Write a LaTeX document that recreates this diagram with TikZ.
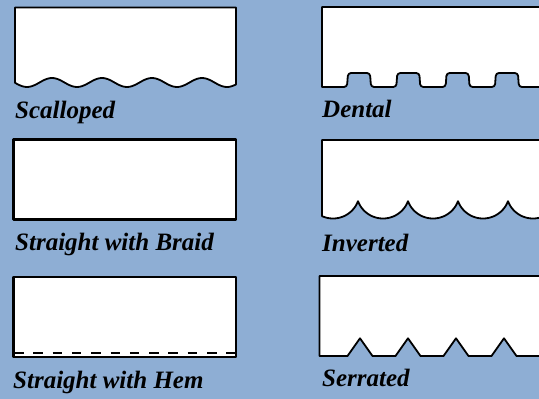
\documentclass[tikz,border=0pt]{standalone}
\usepackage{fontspec}
\setmainfont{Liberation Serif}
\definecolor{bgblue}{RGB}{142,174,212}

\begin{document}
\begin{tikzpicture}[x=1pt,y=-1pt,
    hemline/.style={draw=black,fill=white,line width=1.8pt,line join=round},
    caption/.style={anchor=base west,inner sep=0pt,font=\fontsize{25}{29}\selectfont\bfseries\itshape}]
    \fill[bgblue] (0,0) rectangle (539,399);
    \clip (0,0) rectangle (539,399);

    % scalloped
    \draw[hemline] (236,7.5)--(15,7.5)--(15,83) -- plot[domain=15:236,samples=120,smooth,variable=\x] (\x,{82.5-4.5*cos(7.2*(\x-52))}) -- cycle;
    \node[caption] (scalloped) at (15,118) {Scalloped};

    % dental
    \draw[hemline] (550,7)--(322,7)--(322,87) [rounded corners=3pt]
        \foreach \i in {0,...,4}{ --({347+49.3*\i},87)--({348+49.3*\i},73)--({370+49.3*\i},73)--({371+49.3*\i},87) }
        [sharp corners] --(550,87)--cycle;
    \node[caption] (dental) at (322,117) {Dental};

    % straight with braid
    \draw[hemline,line width=2.2pt] (13.5,139.5) rectangle (236,219.5);
    \node[caption] (braid) at (15,250) {Straight with Braid};

    % inverted
    \draw[hemline] (550,140)--(322,140)--(322,216) -- plot[domain=322:545,samples=224,variable=\x] (\x,{191.8+sqrt(712.9-(mod(\x-308,50)-25)^2)}) --(550,218.5)--cycle;
    \node[caption] (inverted) at (322,251.5) {Inverted};

    % straight with hem
    \draw[hemline,line width=2.2pt] (13.5,277) rectangle (236,357);
    \draw[line width=1.7pt,dash pattern=on 9.5pt off 9.8pt] (14,353)--(235,353);
    \node[caption] (hem) at (13,388) {Straight with Hem};

    % serrated
    \draw[hemline] (550,276)--(319.5,276)--(319.5,356)
        \foreach \i in {0,...,4}{ --({347.5+48*\i},356)--({360+48*\i},338.3)--({372.5+48*\i},356) }
        --(550,356)--cycle;
    \node[caption] (serrated) at (322,386.5) {Serrated};
\end{tikzpicture}
\end{document}
